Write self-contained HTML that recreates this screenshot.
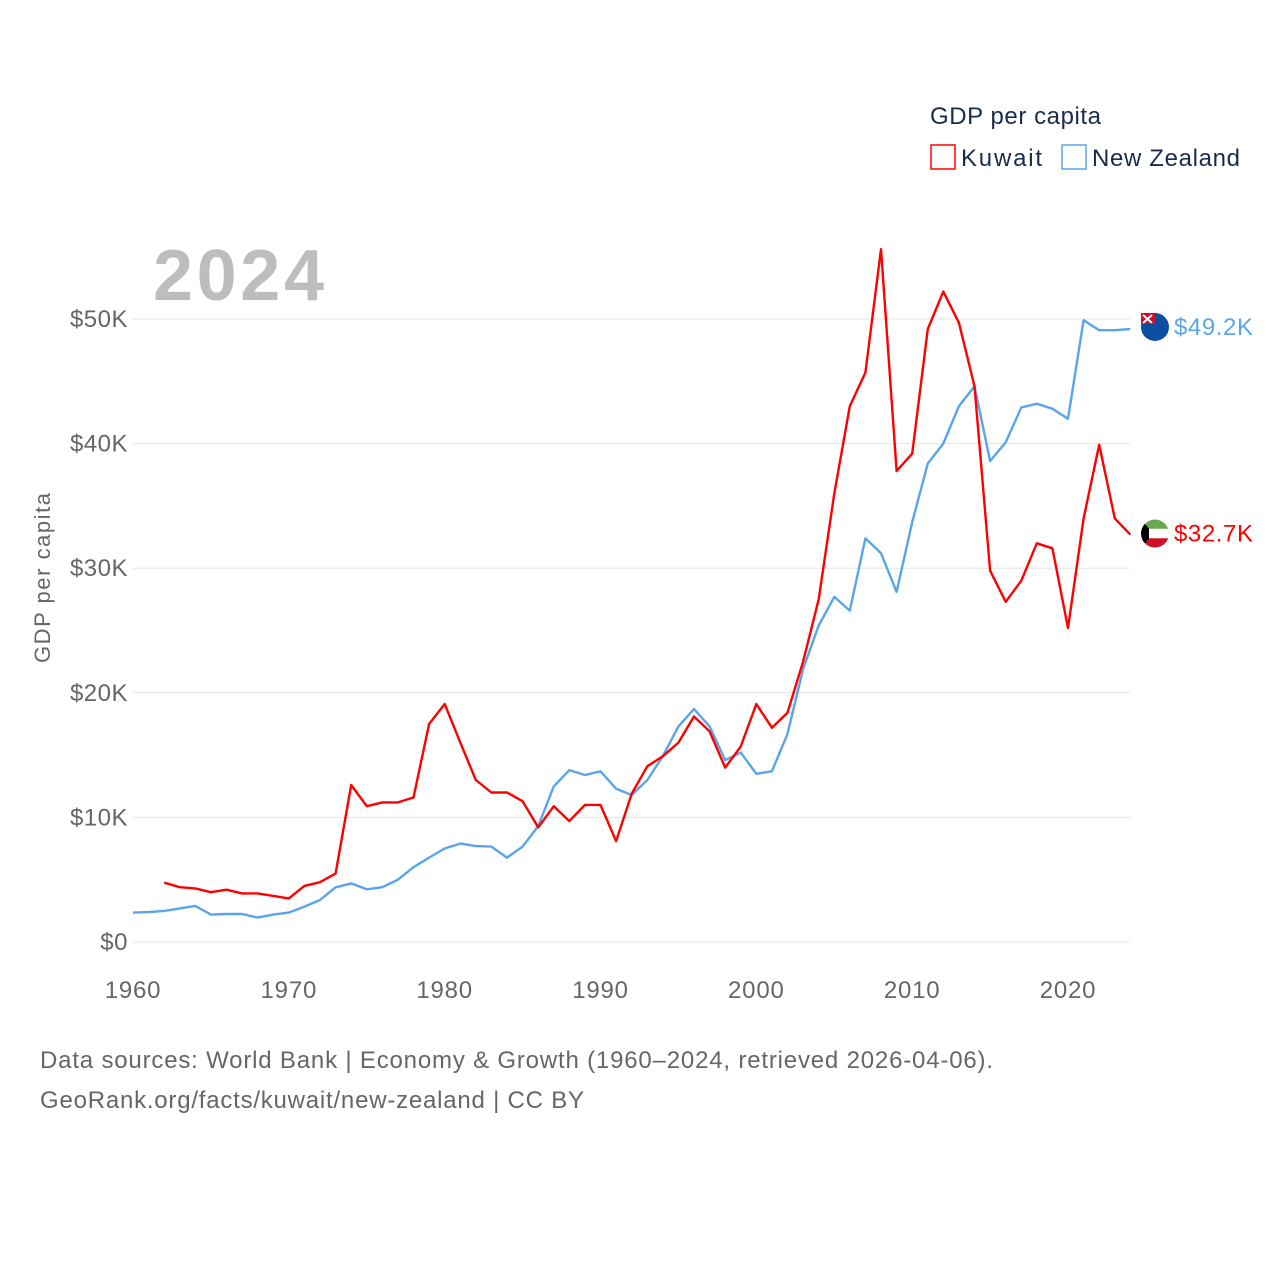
<!DOCTYPE html>
<html><head><meta charset="utf-8"><style>
body{margin:0;background:#fff;font-family:"Liberation Sans",sans-serif}
svg text{font-family:"Liberation Sans",sans-serif}
</style></head><body>
<svg id="chart" width="1280" height="1280" xmlns="http://www.w3.org/2000/svg">
<rect width="1280" height="1280" fill="#fff"/>
<g id="grid"></g>
<g id="lines"></g>
<g id="labels"></g>
<text x="153" y="300" font-size="72" font-weight="bold" fill="#bdbdbd" textLength="171">2024</text>
<text x="930" y="124" font-size="24" fill="#1a2b4c" textLength="171">GDP per capita</text>
<g><rect x="931" y="145" width="24" height="24" fill="none" stroke="#ff0000" stroke-width="1.5"/><text x="961" y="166" font-size="24" fill="#1a2b4c" textLength="81">Kuwait</text></g>
<g><rect x="1062" y="145" width="24" height="24" fill="none" stroke="#5aa5ea" stroke-width="1.5"/><text x="1092" y="166" font-size="24" fill="#1a2b4c" textLength="148">New Zealand</text></g>
<text transform="translate(50,578) rotate(-90)" text-anchor="middle" font-size="22" fill="#666" textLength="170">GDP per capita</text>
<text x="40" y="1068" font-size="24" fill="#666" textLength="953">Data sources: World Bank | Economy &amp; Growth (1960–2024, retrieved 2026-04-06).</text>
<text x="40" y="1108" font-size="24" fill="#666" textLength="544">GeoRank.org/facts/kuwait/new-zealand | CC BY</text>
</svg>
<script>
const nzStart = 1960;
const nzValues = [2.36,2.4,2.5,2.7,2.9,2.2,2.25,2.25,1.96,2.2,2.36,2.84,3.37,4.39,4.7,4.23,4.4,5.0,6.0,6.77,7.5,7.9,7.7,7.66,6.77,7.66,9.3,12.5,13.8,13.4,13.7,12.3,11.8,13.0,14.9,17.3,18.7,17.3,14.6,15.2,13.5,13.7,16.7,21.9,25.4,27.7,26.6,32.4,31.2,28.1,33.7,38.4,40.0,43.0,44.6,38.6,40.1,42.9,43.2,42.8,42.0,49.9,49.1,49.1,49.2];
const kwStart = 1962;
const kwValues = [4.77,4.4,4.3,4.0,4.2,3.9,3.9,3.7,3.5,4.5,4.8,5.5,12.6,10.9,11.2,11.2,11.6,17.5,19.1,16.0,13.0,12.0,12.0,11.3,9.2,10.9,9.7,11.0,11.0,8.1,11.9,14.1,14.9,16.0,18.1,16.9,14.0,15.7,19.1,17.2,18.4,22.5,27.5,36.0,43.0,45.7,55.6,37.8,39.2,49.2,52.2,49.7,44.6,29.8,27.3,29.0,32.0,31.6,25.2,34.0,39.9,34.0,32.7];
const yTicks = [0,10,20,30,40,50];
const yTickLabels = ["$0","$10K","$20K","$30K","$40K","$50K"];
const xTicks = [1960,1970,1980,1990,2000,2010,2020];

const NS="http://www.w3.org/2000/svg";
const X = yr => 133 + (yr-1960)*(935/60);
const Y = v => 942 - v*12.46;
function mk(tag, attrs, parent){const e=document.createElementNS(NS,tag);for(const k in attrs)e.setAttribute(k,attrs[k]);parent.appendChild(e);return e;}
const grid=document.getElementById('grid'), lines=document.getElementById('lines'), labels=document.getElementById('labels');
yTicks.forEach((t,i)=>{
  const l=mk('line',{x1:133,x2:1130,y1:Y(t),y2:Y(t),stroke:'#e6e6e6','stroke-width':1},grid);
  
  
  const tx=mk('text',{x:128,y:Y(t)+8,'text-anchor':'end','font-size':24,fill:'#666','letter-spacing':0.5},labels);
  tx.textContent=yTickLabels[i];
  
  
});
xTicks.forEach(t=>{
  const tx=mk('text',{x:X(t),y:998,'text-anchor':'middle','font-size':24,fill:'#666','letter-spacing':0.8},labels);
  tx.textContent=t;
  
  
});
function series(start, vals, color, name){
  const d=vals.map((v,i)=>(i?'L':'M')+X(start+i).toFixed(1)+','+Y(v).toFixed(1)).join('');
  const p=mk('path',{d:d,fill:'none',stroke:color,'stroke-width':2.4,'stroke-linejoin':'round'},lines);
  
  
}
series(nzStart,nzValues,'#5aa5ea','line-new-zealand');
series(kwStart,kwValues,'#ff0000','line-kuwait');
const nzLast=nzValues[nzValues.length-1], kwLast=kwValues[kwValues.length-1];
const ex=1155;
const ny=Y(nzLast)-2;
const g1=mk('g',{},labels);


mk('circle',{cx:ex,cy:ny,r:14,fill:'#0b4ea2'},g1);
mk('rect',{x:ex-14,y:ny-14,width:14,height:11,fill:'#c8102e'},g1);
mk('path',{d:`M${ex-12},${ny-12}L${ex-3},${ny-4}M${ex-3},${ny-12}L${ex-12},${ny-4}`,stroke:'#fff','stroke-width':2},g1);
const t1=mk('text',{x:1174,y:ny+8,'font-size':24,fill:'#5aa5ea',textLength:79},labels);
t1.textContent='$'+nzLast.toFixed(1)+'K';


const ky=Y(kwLast)-1;
const g2=mk('g',{},labels);


const cp=mk('clipPath',{id:'kc'},g2);
mk('circle',{cx:ex,cy:ky,r:14},cp);
const kg=mk('g',{'clip-path':'url(#kc)'},g2);
mk('rect',{x:ex-14,y:ky-14,width:28,height:9.3,fill:'#6aa84f'},kg);
mk('rect',{x:ex-14,y:ky-4.7,width:28,height:9.4,fill:'#fff'},kg);
mk('rect',{x:ex-14,y:ky+4.7,width:28,height:9.3,fill:'#ce1126'},kg);
mk('path',{d:`M${ex-14},${ky-14}L${ex-6},${ky-5}L${ex-6},${ky+5}L${ex-14},${ky+14}Z`,fill:'#000'},kg);
const t2=mk('text',{x:1174,y:ky+8,'font-size':24,fill:'#ff0000',textLength:79},labels);
t2.textContent='$'+kwLast.toFixed(1)+'K';


</script>
</body></html>
